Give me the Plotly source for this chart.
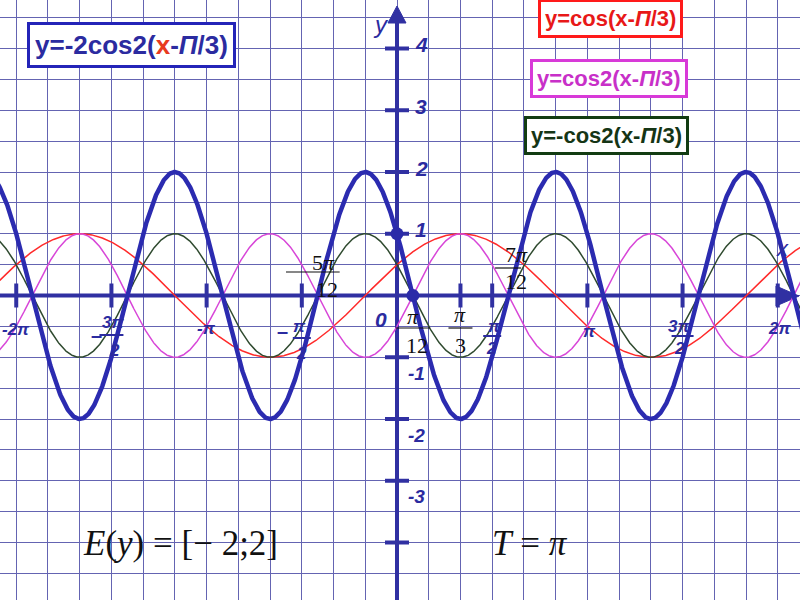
import numpy as np
import plotly.graph_objects as go

PI = np.pi

# ---- data: the four graphed functions  y = amp * cos(freq * (x - shift))
curve_names = ["y=cos(x-П/3)", "y=cos2(x-П/3)", "y=-cos2(x-П/3)", "y=-2cos2(x-П/3)"]
curve_amp = [1, 1, -1, -2]
curve_freq = [1, 2, 2, 2]
curve_shift = [PI / 3, PI / 3, PI / 3, PI / 3]
curve_colors = ["#ff2a2a", "#d846d8", "#2f4a2f", "#2b2bb0"]
curve_widths = [1.5, 1.5, 1.5, 4.5]

# marked points on the thick curve
dot_x = [0, PI / 12]
dot_y = [1, 0]

# axis ticks
x_tick_vals = [-2 * PI, -1.5 * PI, -PI, -0.5 * PI, PI / 3, 0.5 * PI, PI, 1.5 * PI, 2 * PI]
y_tick_vals = [4, 3, 2, 1, -1, -2, -3, -4]
y_tick_labels = ["4", "3", "2", "1", "-1", "-2", "-3", "-4"]

# ---- pixel geometry of the sheet
X0PX, UX = 397.0, 60.6
Y0PX, UY = 295.5, 61.75
W, H = 800, 600


def dx(px):
    return (px - X0PX) / UX


def dy(py):
    return (Y0PX - py) / UY


xr = [dx(0), dx(W)]
yr = [dy(H), dy(0)]

AXC = "#3030a2"
GRID = "#6464b2"

fig = go.Figure()

xs = np.linspace(xr[0] - 0.1, xr[1] + 0.1, 1500)
for name, a, f, s, c, w in zip(curve_names, curve_amp, curve_freq, curve_shift, curve_colors, curve_widths):
    fig.add_trace(go.Scatter(x=xs, y=a * np.cos(f * (xs - s)), mode="lines",
                             line=dict(color=c, width=w), name=name, hoverinfo="skip"))

fig.add_trace(go.Scatter(x=dot_x, y=dot_y, mode="markers",
                         marker=dict(size=13, color="#2b2ba8"), hoverinfo="skip"))

shapes = []
# axes lines
shapes.append(dict(type="line", x0=xr[0], x1=dx(780), y0=0, y1=0,
                   line=dict(color=AXC, width=4), layer="between"))
shapes.append(dict(type="line", x0=0, x1=0, y0=yr[0], y1=dy(20),
                   line=dict(color=AXC, width=4), layer="between"))
# arrow heads
shapes.append(dict(type="path",
                   path=f"M {dx(776)} {dy(286)} L {dx(799)} {dy(296)} L {dx(776)} {dy(306)} Z",
                   fillcolor=AXC, line=dict(color=AXC, width=1), layer="between"))
shapes.append(dict(type="path",
                   path=f"M {dx(388)} {dy(23)} L {dx(397)} {dy(6)} L {dx(406)} {dy(23)} Z",
                   fillcolor=AXC, line=dict(color=AXC, width=1), layer="between"))
# tick marks
for v in x_tick_vals:
    shapes.append(dict(type="line", x0=v, x1=v, y0=-12 / UY, y1=12 / UY,
                       line=dict(color=AXC, width=4), layer="between"))
for v in y_tick_vals:
    shapes.append(dict(type="line", x0=-12 / UX, x1=12 / UX, y0=v, y1=v,
                       line=dict(color=AXC, width=4), layer="between"))

ann = []


def lab(x, text, xs=0, ys=0, size=17, color="#2b2ba0", y=0, fam="Arial, Liberation Sans"):
    ann.append(dict(x=x, y=y, xref="x", yref="y", text=text, showarrow=False,
                    xanchor="center", yanchor="middle",
                    xshift=xs, yshift=ys, font=dict(family=fam, size=size, color=color)))


def bar(x, px_y, half, color="#2b2ba0", width=2):
    shapes.append(dict(type="line", x0=x - half / UX, x1=x + half / UX,
                       y0=dy(px_y), y1=dy(px_y), line=dict(color=color, width=width)))


# y tick labels
for v, t in zip(y_tick_vals, y_tick_labels):
    if v > 0:
        lab(0, f"<b><i>{t}</i></b>", xs=24, ys=4, size=21, y=v)
    elif v > -4:
        lab(0, f"<b><i>{t}</i></b>", xs=19, ys=-16, size=19, y=v)

# x tick labels
lab(-2 * PI, "<b><i>-2π</i></b>", xs=0, ys=-34)
lab(-PI, "<b><i>-π</i></b>", xs=0, ys=-33)
lab(PI, "<b><i>π</i></b>", xs=2, ys=-36)
lab(2 * PI, "<b><i>2π</i></b>", xs=2, ys=-33)
# fractions
lab(-1.5 * PI, "<b>–</b>", xs=-15, ys=-39, size=20)
lab(-1.5 * PI, "<b><i>3π</i></b>", xs=2, ys=-27)
bar(-1.5 * PI, 335, 12)
lab(-1.5 * PI, "<b><i>2</i></b>", xs=3, ys=-55)
lab(-0.5 * PI, "<b>–</b>", xs=-19, ys=-35, size=20)
lab(-0.5 * PI, "<b><i>π</i></b>", xs=-2, ys=-31)
bar(-0.5 * PI, 338, 9)
lab(-0.5 * PI, "<b><i>2</i></b>", xs=0, ys=-58)
lab(0.5 * PI, "<b><i>π</i></b>", xs=2, ys=-31)
bar(0.5 * PI, 336, 9)
lab(0.5 * PI, "<b><i>2</i></b>", xs=-1, ys=-53)
lab(1.5 * PI, "<b><i>3π</i></b>", xs=-4, ys=-31)
bar(1.5 * PI, 336, 11)
lab(1.5 * PI, "<b><i>2</i></b>", xs=-3, ys=-53)
lab(0, "<b><i>0</i></b>", xs=-16, ys=-24, size=21)
# axis names
lab(0, "<i>y</i>", xs=-16, ys=0, size=24, y=dy(24))
lab(dx(782), "<i>x</i>", xs=0, ys=0, size=22, y=dy(248))

# black math labels
SER = "Liberation Serif, Times New Roman, serif"
k = "#111111"
lab(-5 * PI / 12, "5<i>π</i>", xs=6, ys=33, size=22, color=k, fam=SER)
bar(-5 * PI / 12, 272, 22, color=k, width=1.2)
shapes[-1]["x0"] = dx(286)
lab(-5 * PI / 12, "12", xs=9, ys=6, size=22, color=k, fam=SER)
lab(PI / 12, "<i>π</i>", xs=0, ys=-21, size=22, color=k, fam=SER)
bar(PI / 12, 328, 17, color=k, width=1.2)
lab(PI / 12, "12", xs=4, ys=-50, size=22, color=k, fam=SER)
lab(PI / 3, "<i>π</i>", xs=0, ys=-19, size=22, color=k, fam=SER)
bar(PI / 3, 328, 12, color=k, width=1.2)
lab(PI / 3, "3", xs=0, ys=-50, size=22, color=k, fam=SER)
lab(7 * PI / 12, "7<i>π</i>", xs=8, ys=41, size=22, color=k, fam=SER)
bar(7 * PI / 12, 268, 13, color=k, width=1.2)
lab(7 * PI / 12, "12", xs=8, ys=14, size=22, color=k, fam=SER)

# bottom formulas
ann.append(dict(x=180 / W, y=1 - 543 / H, xref="paper", yref="paper", showarrow=False,
                xanchor="center", yanchor="middle",
                text="<i>E</i>(<i>y</i>) = [− 2;2]",
                font=dict(family=SER, size=35, color="#111111")))
ann.append(dict(x=530 / W, y=1 - 543 / H, xref="paper", yref="paper", showarrow=False,
                xanchor="center", yanchor="middle",
                text="<i>T</i> = <i>π</i>",
                font=dict(family=SER, size=35, color="#111111")))


# legend boxes
def box(cx, cy, text, color, tcolor, size, pad):
    ann.append(dict(x=cx / W, y=1 - cy / H, xref="paper", yref="paper", showarrow=False,
                    xanchor="center", yanchor="middle",
                    text=f"<b>{text}</b>", bgcolor="white", bordercolor=color, borderwidth=3,
                    borderpad=pad, font=dict(family="Arial, Liberation Sans", size=size, color=tcolor)))


box(131, 45, "y=-2cos2(<span style='color:#e83a20'>x</span>-<i>П</i>/3)", "#2424b8", "#2b2ba0", 26, 5)
box(610, 18, "y=cos(x-<i>П</i>/3)", "#ff1a1a", "#e81818", 22, 4)
box(609, 78, "y=cos2(x-<i>П</i>/3)", "#d83ad8", "#c830c8", 22, 4)
box(606, 135, "y=-cos2(x-<i>П</i>/3)", "#123c12", "#153515", 22, 4)

fig.update_layout(
    width=W, height=H, autosize=False,
    margin=dict(l=0, r=0, t=0, b=0),
    paper_bgcolor="white", plot_bgcolor="white",
    showlegend=False,
    shapes=shapes, annotations=ann,
    xaxis=dict(range=xr, showgrid=True, gridcolor=GRID, gridwidth=1.4, tick0=0, dtick=PI / 6,
               zeroline=False, showticklabels=False, ticks="", fixedrange=True),
    yaxis=dict(range=yr, showgrid=True, gridcolor=GRID, gridwidth=1.4, tick0=0, dtick=0.5,
               zeroline=False, showticklabels=False, ticks="", fixedrange=True),
)

fig.write_html("out.html", config={"displayModeBar": False},
               post_script="document.body.style.margin='0';document.body.style.padding='0';")
